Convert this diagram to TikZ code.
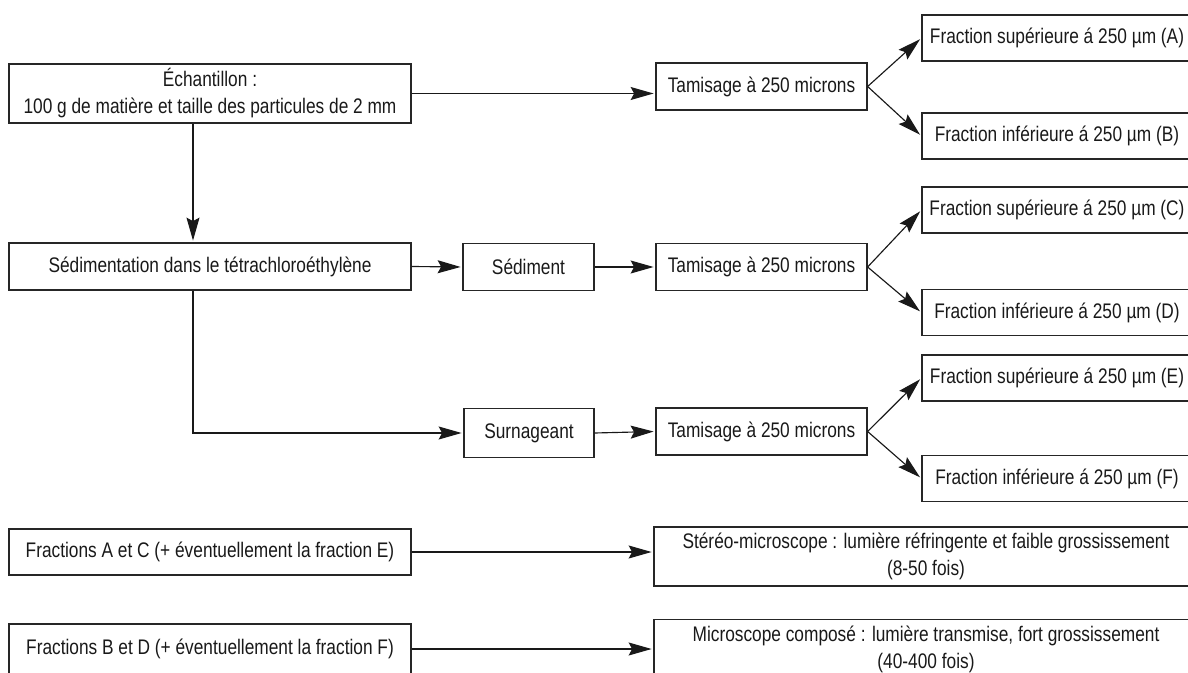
\documentclass[tikz,border=0pt]{standalone}
\usepackage{fontspec}
\setmainfont{Liberation Sans}[FakeStretch=0.82]
\usepackage{tikz}
\usetikzlibrary{arrows.meta}

\begin{document}
\begin{tikzpicture}[
    font=\fontsize{12}{15.4}\selectfont,
    box/.style={draw=black!85,line width=0.7pt,text=black!90,inner sep=0pt,
      align=center,minimum height=0.94cm},
    wide/.style={box,minimum width=8.04cm},
    sieve/.style={box,minimum width=4.22cm},
    frac/.style={box,minimum width=5.4cm,minimum height=0.92cm},
    arr/.style={draw=black!90,line width=0.65pt,shorten >=1pt,
      -{Stealth[length=0.46cm,width=0.26cm,inset=0.07cm]}}]
  \useasboundingbox (0,0) rectangle (23.76,-13.46);
  % --- top: sample and first sieving
  \node[wide,minimum height=1.18cm] (ech) at (4.2,-1.87)
    {Échantillon :\\100 g de matière et taille des particules de 2 mm};
  \node[sieve] (tam1) at (15.23,-1.73) {Tamisage à 250 microns};
  \node[frac] (fA) at (21.14,-0.76) {Fraction supérieure á 250 µm (A)};
  \node[frac] (fB) at (21.14,-2.72) {Fraction inférieure á 250 µm (B)};
  \draw[arr] (ech.east) -- (ech.east -| tam1.west);
  \draw[arr] (tam1.east) -- (fA.west);
  \draw[arr] (tam1.east) -- (fB.west);
  % --- sedimentation: sediment
  \coordinate (trunk) at (3.86,0);
  \node[wide] (sed) at (4.2,-5.33) {Sédimentation dans le tétrachloroéthylène};
  \node[box,minimum width=2.62cm] (sedi) at (10.57,-5.34) {Sédiment};
  \node[sieve] (tam2) at (15.23,-5.34) {Tamisage à 250 microns};
  \node[frac] (fC) at (21.14,-4.2) {Fraction supérieure á 250 µm (C)};
  \node[frac] (fD) at (21.14,-6.25) {Fraction inférieure á 250 µm (D)};
  \draw[arr] (ech.south -| trunk) -- (sed.north -| trunk);
  \draw[arr] (sed.east) -- (sedi.west);
  \draw[arr] (sedi.east) -- (tam2.west);
  \draw[arr] (tam2.east) -- (fC.west);
  \draw[arr] (tam2.east) -- (fD.west);
  % --- sedimentation: supernatant
  \node[box,minimum width=2.6cm,minimum height=0.98cm] (surn) at (10.58,-8.66) {Surnageant};
  \node[sieve] (tam3) at (15.23,-8.63) {Tamisage à 250 microns};
  \node[frac] (fE) at (21.14,-7.56) {Fraction supérieure á 250 µm (E)};
  \node[frac] (fF) at (21.14,-9.57) {Fraction inférieure á 250 µm (F)};
  \draw[arr] (sed.south -| trunk) |- (surn.west);
  \draw[arr] (surn.east) -- (tam3.west);
  \draw[arr] (tam3.east) -- (fE.west);
  \draw[arr] (tam3.east) -- (fF.west);
  % --- observation
  \node[wide,minimum height=0.92cm] (fAC) at (4.2,-11.04)
    {Fractions A et C (+ éventuellement la fraction E)};
  \node[box,minimum width=10.88cm,minimum height=1.18cm] (stereo) at (18.52,-11.13)
    {Stéréo-microscope : lumière réfringente et faible grossissement\\(8-50 fois)};
  \node[wide,minimum height=1.0cm] (fBD) at (4.2,-12.98)
    {Fractions B et D (+ éventuellement la fraction F)};
  \node[box,minimum width=10.88cm,minimum height=1.18cm] (micro) at (18.52,-12.98)
    {Microscope composé : lumière transmise, fort grossissement\\(40-400 fois)};
  \draw[arr] (fAC.east) -- (fAC.east -| stereo.west);
  \draw[arr] (fBD.east) -- (fBD.east -| micro.west);
\end{tikzpicture}
\end{document}
